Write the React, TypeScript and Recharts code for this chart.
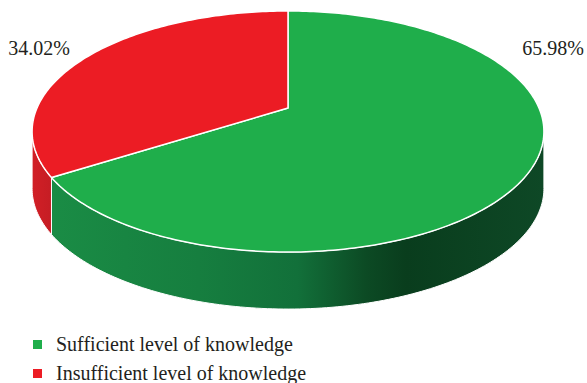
import React from 'react';
import { PieChart, Pie, Cell, Legend } from 'recharts';

const categories = ['Sufficient level of knowledge', 'Insufficient level of knowledge'];
const shares = [65.98, 34.02];
const shareLabels = ['65.98%', '34.02%'];
const topColors = ['#1fae4b', '#ec1c24'];
const sideFills = ['url(#sideGreen)', 'url(#sideRed)'];

const data = categories.map((name, i) => ({ name, value: shares[i] }));

const SERIF = "'Liberation Serif', 'Times New Roman', 'DejaVu Serif', serif";
const TILT = 0.195;
const FLAT = 0.462;
const DEPTH = 57;
const SIL = (Math.asin(TILT) * 180) / Math.PI;
const FRONT_FROM = 180 + SIL;
const FRONT_TO = 360 - SIL;

function project(cx: number, cy: number, r: number, deg: number, dy = 0): [number, number] {
  const t = (deg * Math.PI) / 180;
  const X = Math.cos(t);
  const Y = Math.sin(t);
  const d = 1 + TILT * Y;
  return [cx + (r * X) / d, cy - (r * FLAT * Y) / d + dy];
}

function arc(cx: number, cy: number, r: number, a: number, b: number, dy = 0) {
  const n = Math.max(2, Math.ceil(Math.abs(b - a)));
  const pts: [number, number][] = [];
  for (let i = 0; i <= n; i++) pts.push(project(cx, cy, r, a + ((b - a) * i) / n, dy));
  return pts;
}

const toPath = (pts: [number, number][]) =>
  pts.map((p, i) => `${i === 0 ? 'M' : 'L'}${p[0].toFixed(2)},${p[1].toFixed(2)}`).join(' ');

const renderSlice = (props: any) => {
  const { cx, cy, outerRadius, startAngle, endAngle, midAngle, index } = props;
  const lo = Math.min(startAngle, endAngle);
  const hi = Math.max(startAngle, endAngle);
  const sides: string[] = [];
  [-360, 0, 360].forEach((off) => {
    const a = Math.max(lo, FRONT_FROM + off);
    const b = Math.min(hi, FRONT_TO + off);
    if (a < b) {
      const top = arc(cx, cy, outerRadius, a, b);
      const bottom = arc(cx, cy, outerRadius, b, a, DEPTH);
      sides.push(toPath([...top, ...bottom]) + ' Z');
    }
  });
  const topFace = `M${cx},${cy} ` + toPath(arc(cx, cy, outerRadius, lo, hi)).replace(/^M/, 'L') + ' Z';
  const side = Math.cos((midAngle * Math.PI) / 180) >= 0 ? 1 : -1;
  const lx = cx + side * (outerRadius + 6) + 8;
  const ly = cy - outerRadius * FLAT * 0.52;
  return (
    <g key={`slice-${index}`}>
      {sides.map((d, i) => (
        <path key={i} d={d} fill={sideFills[index]} stroke="#ffffff" strokeWidth={1} />
      ))}
      <path d={topFace} fill={topColors[index]} stroke="#ffffff" strokeWidth={1.5} strokeLinejoin="round" />
      <text
        x={lx}
        y={ly}
        textAnchor="middle"
        dominantBaseline="central"
        style={{ fontFamily: SERIF }}
        fontSize={20}
        fill="#231f20"
      >
        {shareLabels[index]}
      </text>
    </g>
  );
};

const renderLegend = (props: any) => {
  const payload = [...(props.payload || [])].sort(
    (a: any, b: any) => categories.indexOf(a.value) - categories.indexOf(b.value)
  );
  return (
    <div style={{ fontFamily: SERIF, fontSize: 20, color: '#231f20' }}>
      {payload.map((e: any) => {
        const i = categories.indexOf(e.value);
        return (
          <div key={e.value} style={{ display: 'flex', alignItems: 'center', height: 29 }}>
            <span style={{ display: 'inline-block', width: 9, height: 9, background: topColors[i], marginRight: 14 }} />
            <span>{e.value}</span>
          </div>
        );
      })}
    </div>
  );
};

export default function App() {
  return (
    <div style={{ position: 'absolute', left: 0, top: 0, width: 587, height: 383, background: '#ffffff', overflow: 'hidden' }}>
      <PieChart width={587} height={383} margin={{ top: 0, right: 0, bottom: 0, left: 0 }}>
        <defs>
          <linearGradient id="sideGreen" x1="0" y1="0" x2="1" y2="0">
            <stop offset="0" stopColor="#1a8c45" />
            <stop offset="0.3" stopColor="#167e3f" />
            <stop offset="0.5" stopColor="#12703a" />
            <stop offset="0.64" stopColor="#0c4a24" />
            <stop offset="0.72" stopColor="#093d1d" />
            <stop offset="1" stopColor="#0e4826" />
          </linearGradient>
          <linearGradient id="sideRed" x1="0" y1="0" x2="1" y2="0">
            <stop offset="0" stopColor="#d21f26" />
            <stop offset="1" stopColor="#c51d24" />
          </linearGradient>
        </defs>
        <Pie
          data={data}
          dataKey="value"
          nameKey="name"
          cx={288}
          cy={108}
          outerRadius={251}
          startAngle={450}
          endAngle={90}
          stroke="none"
          label={renderSlice}
          labelLine={false}
          isAnimationActive={false}
        >
          {data.map((d, i) => (
            <Cell key={d.name} fill={topColors[i]} fillOpacity={0} stroke="none" />
          ))}
        </Pie>
        <Legend
          content={renderLegend}
          wrapperStyle={{ position: 'absolute', left: 33, top: 330, width: 400, bottom: 'auto' }}
        />
      </PieChart>
    </div>
  );
}
